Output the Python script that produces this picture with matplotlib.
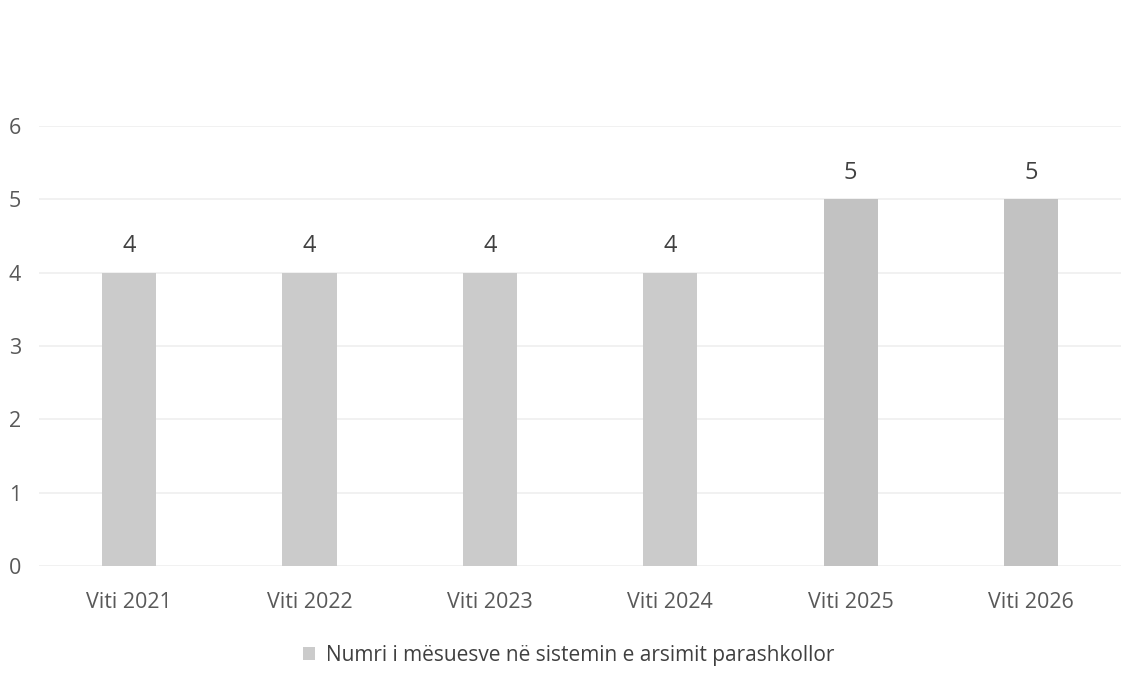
import matplotlib
matplotlib.use('Agg')
import matplotlib.pyplot as plt
import numpy as np

# Te dhenat
vitet = ['Viti 2021', 'Viti 2022', 'Viti 2023', 'Viti 2024', 'Viti 2025', 'Viti 2026']
mesues = [4, 4, 4, 4, 5, 5]
seria = 'Numri i mësuesve në sistemin e arsimit parashkollor'

plt.rcParams['font.family'] = ['Open Sans', 'DejaVu Sans']

fig = plt.figure(figsize=(11.37, 6.84), dpi=100)
ax = fig.add_axes([0.0343, 0.1725, 0.9517, 0.6433])

x = np.arange(len(vitet))
ngjyrat = ['#cbcbcb'] * 4 + ['#c2c2c2'] * 2
bars = ax.bar(x, mesues, width=0.30, color=ngjyrat, label=seria, zorder=2)

for xi, v in zip(x, mesues):
    ax.text(xi, v + 0.20, str(v), ha='center', va='bottom', fontsize=17, color='#404040')

ax.set_ylim(0, 6)
ax.set_xlim(-0.5, len(vitet) - 0.5)
ax.set_yticks(range(0, 7))
ax.set_xticks(x)
ax.set_xticklabels(vitet)
ax.grid(axis='y', color='#efefef', linewidth=1.2, zorder=0)
ax.tick_params(axis='both', length=0, labelsize=15.5, colors='#595959')
ax.tick_params(axis='x', pad=19)
ax.tick_params(axis='y', pad=13)
for s in ax.spines.values():
    s.set_visible(False)

fig.legend(handles=[bars[0]], labels=[seria], loc='center', bbox_to_anchor=(0.5, 0.042),
           frameon=False, fontsize=15, labelcolor='#404040', handlelength=0.6,
           handleheight=0.6, handletextpad=0.5)

fig.savefig('out.png', dpi=100, facecolor='white')
